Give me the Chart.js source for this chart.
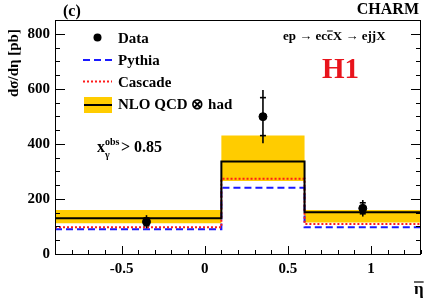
<!DOCTYPE html>
<html>
<head>
<meta charset="utf-8">
<script src="https://cdn.jsdelivr.net/npm/chart.js@4/dist/chart.umd.min.js"></script>
<style>
  html, body { margin: 0; padding: 0; background: #fff; }
  #wrap { width: 426px; height: 303px; }
</style>
</head>
<body>
<div id="wrap"><canvas id="chart" width="426" height="303"></canvas></div>
<script>
// bins in eta-bar
const binEdges = [-0.9, 0.1, 0.6, 1.3];
const pythia = [90, 241, 97];
const cascade = [97, 273, 109];
const nlo = [130, 336, 152];
const nloUp = [160, 430, 160];
const nloDown = [112, 265, 114];

// data points
const dataX = [-0.35, 0.35, 0.95];
const dataY = [117, 499, 166];
const statErr = [14, 69, 20];
const totErr = [24, 97, 30];

const xTicks = [-0.5, 0, 0.5, 1];
const yTicks = [0, 200, 400, 600, 800];

const serif = '"Liberation Serif", "Times New Roman", serif';

// histogram as stepped line: repeat the last value at the right edge
function steps(vals) {
    return binEdges.map((e, i) => ({ x: e, y: vals[Math.min(i, vals.length - 1)] }));
}

const stepLine = (vals, color, width, dash) => ({
    type: 'line',
    data: steps(vals),
    stepped: true,
    borderColor: color,
    borderWidth: width,
    borderDash: dash,
    pointRadius: 0,
    fill: false
});

// frame, inward ticks, error bars, legend and labels
const decor = {
    id: 'decor',
    afterDatasetsDraw(chart) {
        const ctx = chart.ctx;
        const xs = chart.scales.x, ys = chart.scales.y;
        ctx.save();
        ctx.strokeStyle = '#000';
        ctx.lineWidth = 1.6;
        for (let i = 0; i < dataX.length; i++) {
            const px = xs.getPixelForValue(dataX[i]);
            const top = ys.getPixelForValue(dataY[i] + totErr[i]);
            const bot = ys.getPixelForValue(dataY[i] - totErr[i]);
            ctx.beginPath();
            ctx.moveTo(px, top);
            ctx.lineTo(px, bot);
            ctx.stroke();
            [dataY[i] + statErr[i], dataY[i] - statErr[i]].forEach(v => {
                const py = ys.getPixelForValue(v);
                ctx.beginPath();
                ctx.moveTo(px - 3, py);
                ctx.lineTo(px + 3, py);
                ctx.stroke();
            });
        }
        ctx.restore();
    },
    afterDraw(chart) {
        const ctx = chart.ctx;
        const a = chart.chartArea;
        const xs = chart.scales.x, ys = chart.scales.y;
        ctx.save();
        ctx.strokeStyle = '#000';
        ctx.lineWidth = 1;
        ctx.strokeRect(a.left + 0.5, a.top + 0.5, a.right - a.left - 1, a.bottom - a.top);

        // y ticks, left and right, every 50
        ctx.beginPath();
        for (let v = 0; v <= 850; v += 50) {
            const py = Math.round(ys.getPixelForValue(v)) + 0.5;
            const len = v % 200 === 0 ? 10 : 5;
            ctx.moveTo(a.left, py); ctx.lineTo(a.left + len, py);
            ctx.moveTo(a.right, py); ctx.lineTo(a.right - len, py);
        }
        // x ticks every 0.1
        for (let k = -9; k <= 13; k++) {
            const v = k / 10;
            const px = Math.round(xs.getPixelForValue(v)) + 0.5;
            const len = k % 5 === 0 ? 8 : 4;
            ctx.moveTo(px, a.bottom); ctx.lineTo(px, a.bottom - len);
        }
        ctx.stroke();

        ctx.fillStyle = '#000';
        ctx.textBaseline = 'alphabetic';

        ctx.font = 'bold 16px ' + serif;
        ctx.textAlign = 'left';
        ctx.fillText('(c)', 63, 16);
        ctx.textAlign = 'right';
        ctx.fillText('CHARM', 419, 14);

        // process label with c-bar
        ctx.font = 'bold 13px ' + serif;
        ctx.textAlign = 'left';
        let x = 283;
        const y0 = 40;
        const p1 = 'ep \u2192 ec', p2 = 'c', p3 = 'X \u2192 ejjX';
        ctx.fillText(p1, x, y0);
        x += ctx.measureText(p1).width;
        ctx.fillText(p2, x, y0);
        const cw = ctx.measureText(p2).width;
        ctx.beginPath();
        ctx.lineWidth = 1;
        ctx.moveTo(x, y0 - 9); ctx.lineTo(x + cw, y0 - 9);
        ctx.stroke();
        x += cw;
        ctx.fillText(p3, x, y0);

        ctx.fillStyle = '#e8141c';
        ctx.font = 'bold 29px ' + serif;
        ctx.fillText('H1', 322, 78);

        // legend
        ctx.fillStyle = '#000';
        ctx.font = 'bold 15px ' + serif;
        ctx.fillText('Data', 118, 43);
        ctx.fillText('Pythia', 118, 65);
        ctx.fillText('Cascade', 118, 87);
        ctx.fillText('NLO QCD \u2297 had', 118, 109);

        ctx.beginPath();
        ctx.arc(97.5, 37.5, 4, 0, Math.PI * 2);
        ctx.fill();

        ctx.lineWidth = 2;
        ctx.strokeStyle = '#1a1aff';
        ctx.setLineDash([7, 4]);
        ctx.beginPath(); ctx.moveTo(83, 60); ctx.lineTo(112, 60); ctx.stroke();
        ctx.strokeStyle = '#ff1a1a';
        ctx.setLineDash([2, 2]);
        ctx.beginPath(); ctx.moveTo(83, 81.5); ctx.lineTo(112, 81.5); ctx.stroke();
        ctx.setLineDash([]);
        ctx.fillStyle = '#ffcc00';
        ctx.fillRect(84, 97, 28, 16);
        ctx.strokeStyle = '#000';
        ctx.beginPath(); ctx.moveTo(84, 105); ctx.lineTo(112, 105); ctx.stroke();

        // x_gamma^obs > 0.85
        ctx.fillStyle = '#000';
        ctx.font = 'bold 16px ' + serif;
        ctx.fillText('x', 97, 152);
        ctx.font = 'bold 10px ' + serif;
        ctx.fillText('obs', 105, 145);
        ctx.fillText('\u03b3', 105, 158);
        ctx.font = 'bold 16px ' + serif;
        ctx.fillText('> 0.85', 121, 152);

        // x axis title eta-bar
        ctx.font = 'bold 17px ' + serif;
        ctx.fillText('\u03b7', 414, 294);
        const ew = ctx.measureText('\u03b7').width;
        ctx.lineWidth = 1.2;
        ctx.beginPath(); ctx.moveTo(414, 282); ctx.lineTo(414 + ew, 282); ctx.stroke();

        // y axis title
        ctx.translate(18, 97);
        ctx.rotate(-Math.PI / 2);
        ctx.font = 'bold 15px ' + serif;
        ctx.textAlign = 'left';
        ctx.fillText('d\u03c3/d\u03b7 [pb]', 0, 0);
        ctx.restore();
    }
};

new Chart(document.getElementById('chart'), {
    type: 'line',
    data: {
        datasets: [
            {
                type: 'scatter',
                data: dataX.map((v, i) => ({ x: v, y: dataY[i] })),
                backgroundColor: '#000',
                borderColor: '#000',
                pointRadius: 4,
                pointHoverRadius: 4
            },
            stepLine(nlo, '#000', 2, []),
            stepLine(cascade, '#ff1a1a', 2, [2, 2]),
            stepLine(pythia, '#1a1aff', 2, [7, 4]),
            {
                type: 'line',
                data: steps(nloUp),
                stepped: true,
                borderWidth: 0,
                pointRadius: 0,
                backgroundColor: '#ffcc00',
                fill: '+1'
            },
            {
                type: 'line',
                data: steps(nloDown),
                stepped: true,
                borderWidth: 0,
                pointRadius: 0,
                fill: false
            }
        ]
    },
    options: {
        responsive: false,
        animation: false,
        layout: { padding: { top: 20, right: 4, left: 0, bottom: 0 } },
        plugins: { legend: { display: false }, tooltip: { enabled: false } },
        scales: {
            x: {
                type: 'linear',
                min: -0.9,
                max: 1.3,
                afterBuildTicks: s => { s.ticks = xTicks.map(v => ({ value: v })); },
                afterFit: s => { s.height = 49; },
                grid: { display: false, drawTicks: false },
                border: { display: false },
                ticks: {
                    padding: 6,
                    color: '#000',
                    font: { family: serif, size: 15, weight: 'bold' },
                    callback: v => String(v)
                }
            },
            y: {
                min: 0,
                max: 850,
                afterBuildTicks: s => { s.ticks = yTicks.map(v => ({ value: v })); },
                afterFit: s => { s.width = 55; },
                grid: { display: false, drawTicks: false },
                border: { display: false },
                ticks: {
                    padding: 5,
                    color: '#000',
                    font: { family: serif, size: 15, weight: 'bold' }
                }
            }
        }
    },
    plugins: [decor]
});
</script>
</body>
</html>
